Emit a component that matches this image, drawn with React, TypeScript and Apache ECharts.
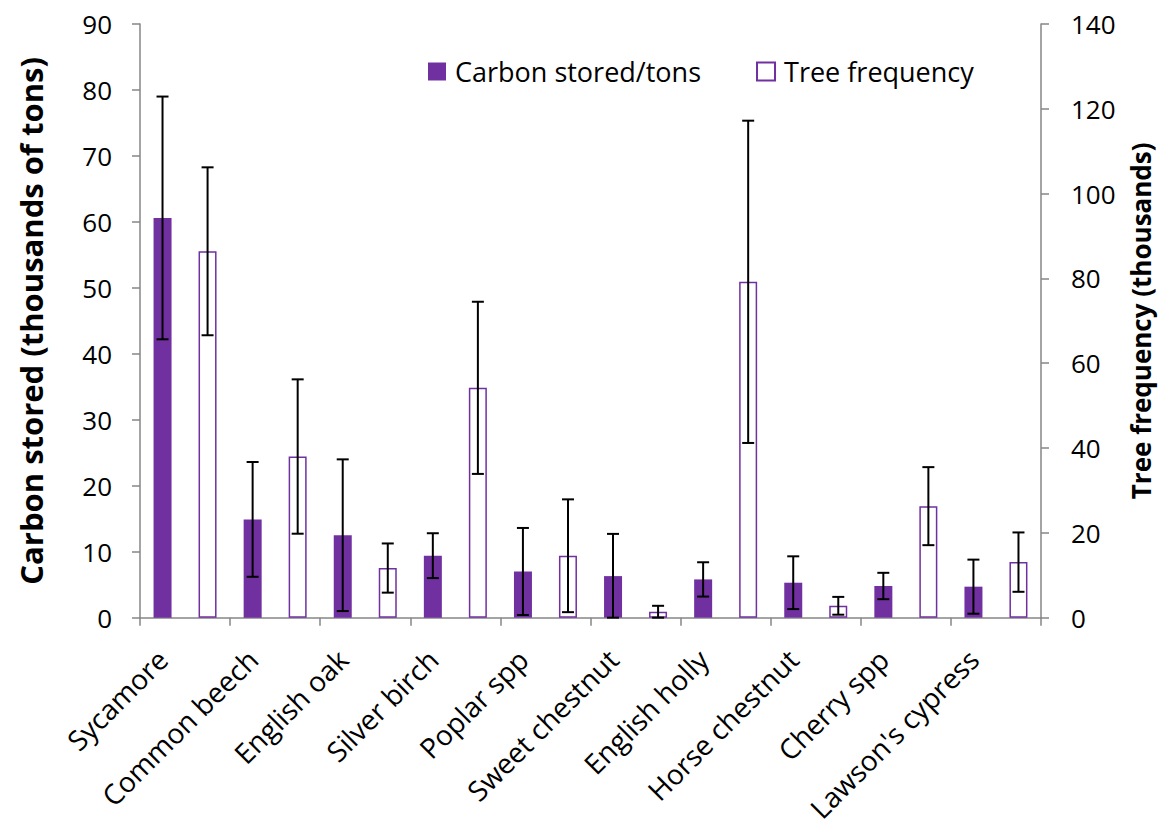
import React, { useEffect, useRef } from "react";
import * as echarts from "echarts";

const categories = [
  "Sycamore",
  "Common beech",
  "English oak",
  "Silver birch",
  "Poplar spp",
  "Sweet chestnut",
  "English holly",
  "Horse chestnut",
  "Cherry spp",
  "Lawson's cypress",
];
// Carbon stored (thousands of tons), left axis
const carbonValues = [60.6, 14.9, 12.5, 9.4, 7.0, 6.3, 5.8, 5.3, 4.8, 4.7];
const carbonErrors = [18.4, 8.7, 11.5, 3.4, 6.6, 6.4, 2.6, 4.0, 2.0, 4.1];
// Tree frequency (thousands), right axis
const freqValues = [86.4, 38.0, 11.7, 54.2, 14.6, 1.4, 79.2, 2.8, 26.3, 13.1];
const freqErrors = [19.8, 18.2, 5.8, 20.3, 13.3, 1.4, 38.0, 2.1, 9.2, 7.0];

const PURPLE = "#7030A0";
const AXIS = "#868686";
const FONT = "Open Sans";

function errorSeries(values: number[], errors: number[], yAxisIndex: number, side: number) {
  return {
    type: "custom",
    yAxisIndex,
    silent: true,
    z: 10,
    data: values.map((v, i) => [i, v, errors[i]]),
    encode: { x: 0, y: 1 },
    renderItem: (params: any, api: any) => {
      const idx = api.value(0);
      const val = api.value(1);
      const err = api.value(2);
      const band = api.size([1, 0])[0];
      const off = side * band * 0.25;
      const hi = api.coord([idx, val + err]);
      const lo = api.coord([idx, Math.max(0, val - err)]);
      const x = hi[0] + off;
      const cap = 6;
      const style = { stroke: "#000", lineWidth: 2 };
      return {
        type: "group",
        children: [
          { type: "line", shape: { x1: x, y1: hi[1], x2: x, y2: lo[1] }, style },
          { type: "line", shape: { x1: x - cap, y1: hi[1], x2: x + cap, y2: hi[1] }, style },
          { type: "line", shape: { x1: x - cap, y1: lo[1], x2: x + cap, y2: lo[1] }, style },
        ],
      };
    },
  };
}

export default function App() {
  const ref = useRef<HTMLDivElement>(null);
  useEffect(() => {
    if (!ref.current) return;
    const chart = echarts.init(ref.current, undefined, { renderer: "svg" });
    chart.setOption({
      animation: false,
      textStyle: { fontFamily: FONT },
      grid: { left: 140, right: 119, top: 24, bottom: 196, containLabel: false },
      legend: {
        top: 53,
        left: 423,
        itemWidth: 18,
        itemHeight: 18,
        itemGap: 55,
        icon: "rect",
        textStyle: { fontFamily: FONT, fontSize: 27, color: "#000", padding: [0, 0, 0, 4] },
        data: ["Carbon stored/tons", "Tree frequency"],
      },
      xAxis: {
        type: "category",
        data: categories,
        axisLine: { lineStyle: { color: AXIS, width: 1.5 } },
        axisTick: { show: true, length: 8, lineStyle: { color: AXIS, width: 1.5 } },
        axisLabel: {
          interval: 0,
          rotate: 45,
          fontFamily: FONT,
          fontSize: 28,
          color: "#000",
          margin: 14,
          padding: [0, 32, 0, 0],
        },
      },
      yAxis: [
        {
          type: "value",
          min: 0,
          max: 90,
          interval: 10,
          name: "Carbon stored (thousands of tons)",
          nameLocation: "middle",
          nameGap: 94,
          nameTextStyle: { fontFamily: FONT, fontSize: 31, fontWeight: "bold", color: "#000" },
          splitLine: { show: false },
          axisLine: { show: true, lineStyle: { color: AXIS, width: 1.5 } },
          axisTick: { show: true, length: 8, lineStyle: { color: AXIS, width: 1.5 } },
          axisLabel: { fontFamily: FONT, fontSize: 26, color: "#000", margin: 28 },
        },
        {
          type: "value",
          min: 0,
          max: 140,
          interval: 20,
          position: "right",
          name: "Tree frequency (thousands)",
          nameLocation: "middle",
          nameGap: 87,
          nameRotate: 90,
          nameTextStyle: { fontFamily: FONT, fontSize: 26, fontWeight: "bold", color: "#000" },
          splitLine: { show: false },
          axisLine: { show: true, lineStyle: { color: AXIS, width: 1.5 } },
          axisTick: { show: true, length: 8, lineStyle: { color: AXIS, width: 1.5 } },
          axisLabel: { fontFamily: FONT, fontSize: 26, color: "#000", margin: 30 },
        },
      ],
      series: [
        {
          name: "Carbon stored/tons",
          type: "bar",
          yAxisIndex: 0,
          data: carbonValues,
          barWidth: 18,
          barGap: "150%",
          itemStyle: { color: PURPLE },
        },
        {
          name: "Tree frequency",
          type: "bar",
          yAxisIndex: 1,
          data: freqValues,
          barWidth: 18,
          itemStyle: { color: "#fff", borderColor: PURPLE, borderWidth: 1.5 },
        },
        errorSeries(carbonValues, carbonErrors, 0, -1),
        errorSeries(freqValues, freqErrors, 1, 1),
      ],
    });
    return () => chart.dispose();
  }, []);
  return (
    <div
      ref={ref}
      style={{ position: "absolute", left: 0, top: 0, width: 1162, height: 825 }}
    />
  );
}
